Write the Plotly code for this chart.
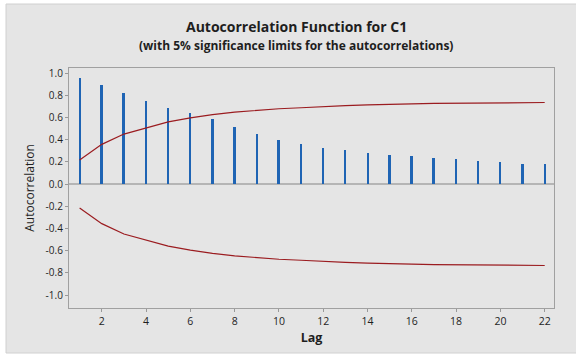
import plotly.graph_objects as go

lags = list(range(1, 23))
acf = [0.955, 0.889, 0.823, 0.750, 0.682, 0.640, 0.586, 0.514, 0.448, 0.394, 0.360,
       0.327, 0.303, 0.282, 0.261, 0.249, 0.234, 0.225, 0.204, 0.198, 0.183, 0.177]
upper = [0.216, 0.357, 0.450, 0.507, 0.560, 0.595, 0.625, 0.647, 0.665, 0.678, 0.687,
         0.698, 0.706, 0.712, 0.714, 0.721, 0.726, 0.727, 0.729, 0.733, 0.734, 0.734]
lower = [-v for v in upper]
x_ticks = list(range(2, 23, 2))
y_ticks = [1.0, 0.8, 0.6, 0.4, 0.2, 0.0, -0.2, -0.4, -0.6, -0.8, -1.0]
y_tick_text = ["1.0", "0.8", "0.6", "0.4", "0.2", "0.0", "-0.2", "-0.4", "-0.6", "-0.8", "-1.0"]

W, H = 576, 356
ml, mr, mt, mb = 69, 22, 68, 48
pw, ph = W - ml - mr, H - mt - mb

def px(x):
    return (x - ml) / pw

def py(y):
    return (H - mb - y) / ph

BAR = "#1f64b4"
LIM = "#9b1c20"
FONT = "Open Sans, Noto Sans, sans-serif"
TXT = "#1e1e1e"

fig = go.Figure()
fig.add_trace(go.Bar(x=lags, y=acf, width=0.09, marker=dict(color=BAR, line=dict(width=0)),
                     showlegend=False))
fig.add_trace(go.Scatter(x=lags, y=upper, mode="lines", line=dict(color=LIM, width=1.2),
                         showlegend=False))
fig.add_trace(go.Scatter(x=lags, y=lower, mode="lines", line=dict(color=LIM, width=1.2),
                         showlegend=False))

fig.update_layout(
    width=W, height=H,
    margin=dict(l=ml, r=mr, t=mt, b=mb, autoexpand=False),
    paper_bgcolor="white",
    plot_bgcolor="white",
    font=dict(family=FONT, color=TXT),
    bargap=0,
    shapes=[dict(type="rect", xref="paper", yref="paper",
                 x0=px(6), x1=px(580), y0=py(353), y1=py(4),
                 fillcolor="#e5e5e5", line=dict(color="#d0d0d0", width=1), layer="below")],
    annotations=[
        dict(text="<b>Autocorrelation Function for C1</b>", xref="paper", yref="paper",
             x=px(296), y=py(27), xanchor="center", yanchor="middle", showarrow=False,
             font=dict(size=14, family=FONT, color=TXT)),
        dict(text="<b>(with 5% significance limits for the autocorrelations)</b>", xref="paper", yref="paper",
             x=px(296), y=py(45.5), xanchor="center", yanchor="middle", showarrow=False,
             font=dict(size=12, family=FONT, color=TXT)),
    ],
    xaxis=dict(range=[0.52, 22.42], tickvals=x_ticks, ticks="outside", ticklen=3,
               tickcolor="#999999", showgrid=False, zeroline=False,
               showline=True, linecolor="#a0a0a0", linewidth=1.3, mirror=True,
               tickfont=dict(size=10.5, family=FONT, color=TXT),
               title=dict(text="<b>Lag</b>", font=dict(size=12.5, family=FONT, color=TXT),
                          standoff=6)),
    yaxis=dict(range=[-1.117, 1.045], tickvals=y_ticks, ticktext=y_tick_text,
               ticks="outside", ticklen=3, tickcolor="#999999", showgrid=False,
               zeroline=True, zerolinecolor="#b5b5b5", zerolinewidth=1.6,
               showline=True, linecolor="#a0a0a0", linewidth=1.3, mirror=True,
               tickfont=dict(size=10, family=FONT, color=TXT),
               title=dict(text="Autocorrelation", font=dict(size=12, family=FONT, color=TXT),
                          standoff=8)),
)

fig.write_html("out.html", config={"displayModeBar": False},
               post_script="document.body.style.margin='0';")
